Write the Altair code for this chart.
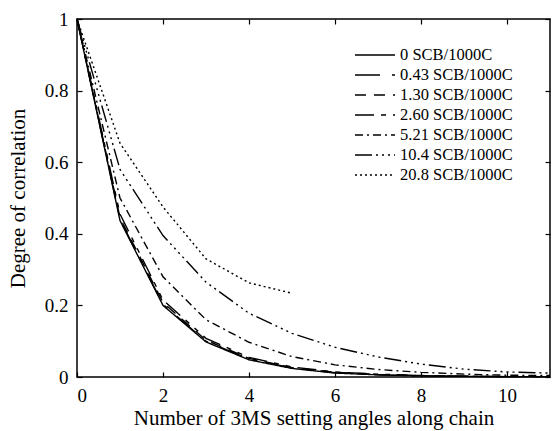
import altair as alt
import pandas as pd

steps = list(range(12))
series_names = [
    "0 SCB/1000C",
    "0.43 SCB/1000C",
    "1.30 SCB/1000C",
    "2.60 SCB/1000C",
    "5.21 SCB/1000C",
    "10.4 SCB/1000C",
    "20.8 SCB/1000C",
]
s_0 = [1, 0.437, 0.200, 0.098, 0.048, 0.024, 0.011, 0.006, 0.003, 0.002, 0.001, 0.001]
s_043 = [1, 0.440, 0.203, 0.100, 0.050, 0.025, 0.012, 0.006, 0.003, 0.002, 0.001, 0.001]
s_130 = [1, 0.445, 0.208, 0.103, 0.052, 0.026, 0.013, 0.007, 0.004, 0.002, 0.001, 0.001]
s_260 = [1, 0.455, 0.215, 0.108, 0.055, 0.028, 0.014, 0.008, 0.004, 0.002, 0.001, 0.001]
s_521 = [1, 0.500, 0.280, 0.160, 0.097, 0.057, 0.034, 0.021, 0.013, 0.008, 0.005, 0.004]
s_104 = [1, 0.580, 0.395, 0.265, 0.178, 0.122, 0.083, 0.056, 0.036, 0.022, 0.014, 0.011]
s_208 = [1, 0.653, 0.475, 0.330, 0.263, 0.234]

all_series = [s_0, s_043, s_130, s_260, s_521, s_104, s_208]
dashes = [[1, 0], [25, 12, 4, 12], [11, 8], [19, 7, 5, 7, 5, 7],
          [8, 4, 2, 4], [17, 4, 2, 4, 2, 4, 2, 4, 2, 4], [2, 3]]

x_ticks = [0, 2, 4, 6, 8, 10]
y_ticks = [0, 0.2, 0.4, 0.6, 0.8, 1]

rows = []
for name, vals in zip(series_names, all_series):
    for n, v in zip(steps, vals):
        rows.append({"n": n, "corr": v, "series": name})
df = pd.DataFrame(rows)

FONT = "Liberation Serif"
xscale = alt.Scale(domain=[0, 11], nice=False)
yscale = alt.Scale(domain=[0, 1], nice=False)

lines = alt.Chart(df).mark_line(color="black", strokeWidth=1.4).encode(
    x=alt.X("n:Q", scale=xscale,
            title="Number of 3MS setting angles along chain",
            axis=alt.Axis(orient="bottom", values=x_ticks, offset=-5, tickSize=5,
                          domain=False, grid=False, labelPadding=9,
                          titlePadding=2, labelFontSize=19, titleFontSize=21,
                          titleFontWeight="normal", labelFont=FONT, titleFont=FONT,
                          labelColor="black", titleColor="black", tickColor="black",
                          tickWidth=1.2)),
    y=alt.Y("corr:Q", scale=yscale, title="Degree of correlation",
            axis=alt.Axis(orient="left", values=y_ticks, offset=-5, tickSize=5,
                          domain=False, grid=False, labelPadding=9, format="~g",
                          titlePadding=16, labelFontSize=19, titleFontSize=21,
                          titleFontWeight="normal", labelFont=FONT, titleFont=FONT,
                          labelColor="black", titleColor="black", tickColor="black",
                          tickWidth=1.2)),
    strokeDash=alt.StrokeDash(
        "series:N",
        scale=alt.Scale(domain=series_names, range=dashes),
        sort=series_names,
        legend=alt.Legend(
            title=None, orient="none", legendX=277, legendY=27,
            symbolType="stroke", symbolSize=1600, symbolStrokeColor="black",
            symbolStrokeWidth=1.6, labelFontSize=16.5, labelFont=FONT,
            labelColor="black", labelOffset=4, rowPadding=2, clipHeight=18,
            padding=0,
        ),
    ),
    detail="series:N",
)

mirror = alt.Chart(df).mark_line(opacity=0).encode(
    x=alt.X("n:Q", scale=xscale, title=None,
            axis=alt.Axis(orient="top", values=x_ticks, offset=-5, tickSize=5,
                          domain=False, grid=False, labels=False,
                          tickColor="black", tickWidth=1.2)),
    y=alt.Y("corr:Q", scale=yscale, title=None,
            axis=alt.Axis(orient="right", values=y_ticks, offset=-5, tickSize=5,
                          domain=False, grid=False, labels=False,
                          tickColor="black", tickWidth=1.2)),
    detail="series:N",
)

chart = alt.layer(lines, mirror).resolve_axis(x="independent", y="independent").properties(
    width=473, height=358,
    autosize=alt.AutoSizeParams(type="none"),
    padding={"left": 77, "top": 19, "right": 2, "bottom": 54},
    background="white",
).configure(font=FONT).configure_view(stroke="black", strokeWidth=1.5)

chart.save("out.html", embed_options={"renderer": "svg", "actions": False})
